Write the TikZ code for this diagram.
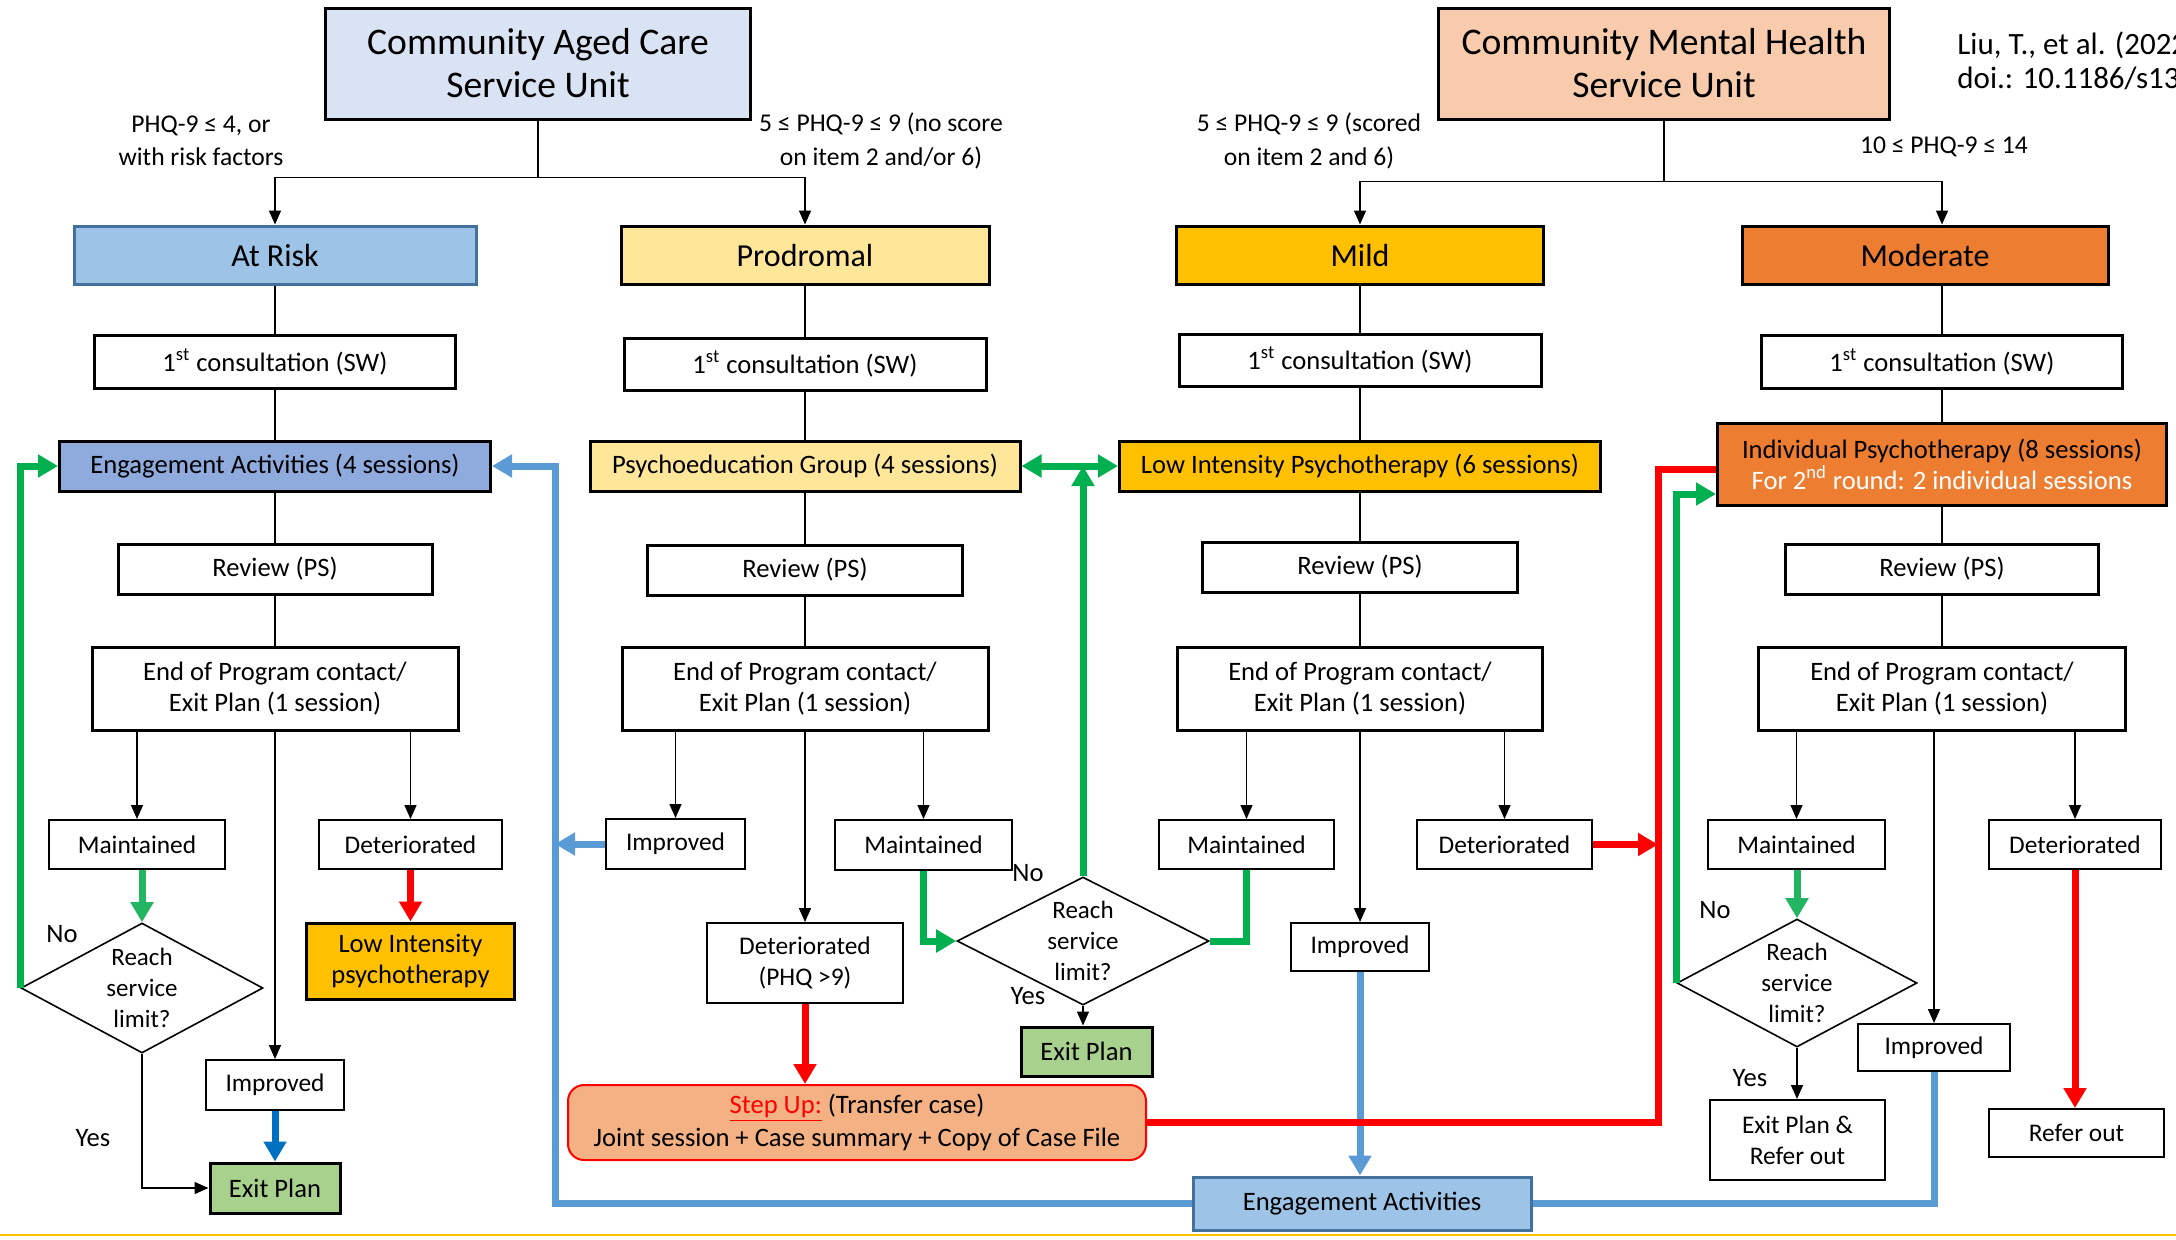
\documentclass[tikz,border=0pt]{standalone}
\usepackage{fontspec}
\setmainfont{Carlito}
\usetikzlibrary{arrows.meta,shapes.geometric,calc}
\definecolor{cacsuC}{HTML}{DAE3F3}
\definecolor{cmhsuC}{HTML}{F8CBAD}
\definecolor{atriskC}{HTML}{9DC3E6}
\definecolor{atriskB}{HTML}{41719C}
\definecolor{prodC}{HTML}{FFE699}
\definecolor{mildC}{HTML}{FFC000}
\definecolor{modC}{HTML}{ED7D31}
\definecolor{engC}{HTML}{8FAADC}
\definecolor{exitC}{HTML}{A9D18E}
\definecolor{stepC}{HTML}{F4B183}
\definecolor{loopB}{HTML}{5B9BD5}
\definecolor{darkB}{HTML}{0070C0}
\definecolor{cgrn}{HTML}{00B050}
\definecolor{lgrn}{HTML}{24B563}
\definecolor{cred}{HTML}{FF0000}
\newcommand{\ftitle}{\fontsize{18.8}{21.5}\selectfont}
\newcommand{\flevel}{\fontsize{16}{19}\selectfont}
\newcommand{\fbody}{\fontsize{13.3}{15.5}\selectfont}
\newcommand{\fout}{\fontsize{12.7}{15.5}\selectfont}
\newcommand{\flab}{\fontsize{12.8}{16.6}\selectfont}
\newcommand{\fdia}{\fontsize{12.5}{15.6}\selectfont}
\newcommand{\fcite}{\fontsize{15.5}{16.5}\selectfont}
% \mkbox[style]{name}{cx}{cy}{w}{h}{text}
\newcommand{\mkbox}[7][]{\node[#1,minimum width={#5*0.5pt},minimum height={#6*0.5pt}] (#2) at (#3,#4) {#7};}
\tikzset{
  box/.style={draw, line width=1.5pt, inner sep=0pt, align=center, font=\fbody},
  obox/.style={draw, line width=1pt, inner sep=0pt, align=center, font=\fout},
  titlebox/.style={box, font=\ftitle},
  levelbox/.style={box, font=\flevel},
  lab/.style={align=center, font=\flab, inner sep=0pt},
  yn/.style={font=\fbody, inner sep=0pt},
  dia/.style={draw, diamond, shape aspect=1.9, inner sep=0pt, line width=0.8pt, align=center, font=\fdia},
  ln/.style={line width=0.75pt},
  arr/.style={ln, -{Triangle[width=6pt,length=7pt]}},
  tk/.style={line width=3.5pt},
  bigtip/.style={-{Triangle[width=11pt,length=10pt]}},
}
\begin{document}
\begin{tikzpicture}[x=0.5pt,y=-0.5pt]
\clip (0,0) rectangle (2176,1239);
\useasboundingbox (0,0) rectangle (2176,1239);
% units
\mkbox[titlebox,fill=cacsuC]{cacsu}{538}{63.5}{425}{111}{Community Aged Care\\Service Unit}
\mkbox[titlebox,fill=cmhsuC]{cmhsu}{1664}{63.5}{451}{111}{Community Mental Health\\Service Unit}
\node[lab] (lab1) at (201,141) {PHQ-9 ≤ 4, or\\with risk factors};
\node[lab] (lab2) at (881,141) {5 ≤ PHQ-9 ≤ 9 (no score\\on item 2 and/or 6)};
\node[lab] (lab3) at (1309,141) {5 ≤ PHQ-9 ≤ 9 (scored\\on item 2 and 6)};
\node[lab] (lab4) at (1944,147) {10 ≤ PHQ-9 ≤ 14};
\node[font=\fcite, anchor=west, inner sep=0pt] (cite1) at (1957,45) {Liu, T., et al. (2022};
\node[font=\fcite, anchor=west, inner sep=0pt] (cite2) at (1957,78) {doi.: 10.1186/s13};
% levels
\mkbox[levelbox,fill=atriskC,draw=atriskB]{atrisk}{275}{255}{402}{58}{At Risk}
\mkbox[levelbox,fill=prodC]{prod}{805}{255}{368}{58}{Prodromal}
\mkbox[levelbox,fill=mildC]{mild}{1360}{255}{367}{58}{Mild}
\mkbox[levelbox,fill=modC]{mod}{1925}{255}{366}{58}{Moderate}
% consultations
\mkbox[box]{c1}{275}{362}{361}{53}{1\textsuperscript{st} consultation (SW)}
\mkbox[box]{c2}{805}{364}{362}{52}{1\textsuperscript{st} consultation (SW)}
\mkbox[box]{c3}{1360}{360}{362}{52}{1\textsuperscript{st} consultation (SW)}
\mkbox[box]{c4}{1942}{362}{361}{53}{1\textsuperscript{st} consultation (SW)}
% interventions
\mkbox[box,fill=engC]{ea1}{275}{466}{431}{50}{Engagement Activities (4 sessions)}
\mkbox[box,fill=prodC]{pg}{805}{466}{430}{50}{Psychoeducation Group (4 sessions)}
\mkbox[box,fill=mildC]{lip}{1360}{466}{481}{50}{Low Intensity Psychotherapy (6 sessions)}
\mkbox[box,fill=modC]{ip}{1942}{464}{449}{82}{Individual Psychotherapy (8 sessions)\\{\color{white}For 2\textsuperscript{nd} round: 2 individual sessions}}
% reviews
\mkbox[box]{r1}{275}{569}{314}{50}{Review (PS)}
\mkbox[box]{r2}{805}{570}{315}{50}{Review (PS)}
\mkbox[box]{r3}{1360}{567}{315}{50}{Review (PS)}
\mkbox[box]{r4}{1942}{569}{313}{50}{Review (PS)}
% end of program
\mkbox[box]{e1}{275}{688.5}{366}{83}{End of Program contact/\\Exit Plan (1 session)}
\mkbox[box]{e2}{805}{688.5}{366}{83}{End of Program contact/\\Exit Plan (1 session)}
\mkbox[box]{e3}{1360}{688.5}{365}{83}{End of Program contact/\\Exit Plan (1 session)}
\mkbox[box]{e4}{1942}{688.5}{367}{83}{End of Program contact/\\Exit Plan (1 session)}
% outcomes: at risk
\mkbox[obox]{m1}{137}{844.5}{176}{49}{Maintained}
\mkbox[obox]{d1}{410.5}{844.5}{183}{49}{Deteriorated}
\node[dia, minimum width=121pt, minimum height=65pt] (dia1) at (142,988) {Reach\\service\\limit?};
\mkbox[box,line width=1.5pt,fill=mildC]{lip1}{410.5}{961}{208}{76}{Low Intensity\\psychotherapy}
\mkbox[obox]{i1}{275}{1085}{138}{50}{Improved}
\mkbox[box,fill=exitC]{x1}{275}{1188}{130}{50}{Exit Plan}
\node[yn] (no1) at (62,934) {No};
\node[yn] (yes1) at (93,1138) {Yes};
% outcomes: prodromal
\mkbox[obox]{i2}{675.5}{844}{139}{50}{Improved}
\mkbox[obox]{m2}{923.5}{845}{177}{50}{Maintained}
\mkbox[obox]{d2}{805}{963}{196}{80}{Deteriorated\\(PHQ >9)}
\node[dia, minimum width=126pt, minimum height=64pt] (dia2) at (1083,941) {Reach\\service\\limit?};
\mkbox[box,fill=exitC]{x2}{1086.5}{1051.5}{131}{49}{Exit Plan}
\node[yn] (no2) at (1028,873) {No};
\node[yn] (yes2) at (1028,996) {Yes};
\node[draw=cred, line width=1pt, fill=stepC, rounded corners=8pt, inner sep=0pt, align=center,
      font=\fontsize{13.3}{16.6}\selectfont, minimum width=289pt, minimum height=37.5pt] (su) at (857,1122.5)
      {{\color{cred}\underline{Step Up:}} (Transfer case)\\Joint session + Case summary + Copy of Case File};
% outcomes: mild
\mkbox[obox]{m3}{1246.5}{844.5}{175}{49}{Maintained}
\mkbox[obox]{d3}{1504.5}{844.5}{175}{49}{Deteriorated}
\mkbox[obox]{i3}{1360}{947}{138}{48}{Improved}
\mkbox[box,fill=atriskC,draw=atriskB]{eab}{1362}{1203.5}{338}{53}{Engagement Activities}
% outcomes: moderate
\mkbox[obox]{m4}{1796.5}{844.5}{177}{49}{Maintained}
\mkbox[obox]{d4}{2075}{844.5}{172}{49}{Deteriorated}
\node[dia, minimum width=120pt, minimum height=64pt] (dia4) at (1797,983) {Reach\\service\\limit?};
\mkbox[obox]{i4}{1934}{1047.5}{152}{47}{Improved}
\mkbox[obox]{xr}{1797.5}{1140}{175}{80}{Exit Plan \&\\Refer out}
\mkbox[obox]{ro}{2076.5}{1133}{175}{48}{Refer out}
\node[yn] (no4) at (1715,910) {No};
\node[yn] (yes4) at (1750,1078) {Yes};
% ---------- thin connectors ----------
\draw[arr] (cacsu.south) -- ++(0,57) -| (atrisk.north);
\draw[arr] (cacsu.south) ++(0,57) -| (prod.north);
\draw[arr] (cmhsu.south) -- ++(0,61) -| (mild.north);
\draw[arr] (cmhsu.south) ++(0,61) -| (c4.north |- mod.north);
\foreach \a/\b in {atrisk/c1,c1/ea1,ea1/r1,r1/e1,prod/c2,c2/pg,pg/r2,r2/e2,mild/c3,c3/lip,lip/r3,r3/e3,mod/c4,c4/ip,ip/r4,r4/e4}
  \draw[ln] (\b.north |- \a.south) -- (\b.north);
\foreach \e/\o in {e1/m1,e1/d1,e1/i1,e2/i2,e2/m2,e2/d2,e3/m3,e3/d3,e3/i3,e4/m4,e4/d4,e4/i4}
  \draw[arr] (\o.north |- \e.south) -- (\o.north);
\draw[arr] (dia1.south) |- (x1.west);
\draw[arr] (dia2.south) -- (dia2.south |- x2.north);
\draw[arr] (dia4.south) -- (dia4.south |- xr.north);
% ---------- coloured connectors ----------
\coordinate (bl) at (555,466);
\coordinate (rc) at (1658,469);
\coordinate (gc) at (1680,494);
% at risk
\draw[tk, lgrn, bigtip] (dia1.north |- m1.south) -- (dia1.north);
\draw[tk, cgrn, bigtip] (dia1.west) |- (ea1.west);
\draw[tk, darkB, bigtip] (i1.south) -- (x1.north);
\draw[tk, cred, bigtip] (d1.south) -- (d1.south |- lip1.north);
% blue loop
\draw[tk, loopB, bigtip] (eab.west) -| (bl) -- (ea1.east);
\draw[tk, loopB, bigtip] (i2.west) -- (i2.west -| bl);
\draw[tk, loopB] (i4.south) |- (eab.east);
\draw[tk, loopB, bigtip] (i3.south) -- (i3.south |- eab.north);
% prodromal / mild
\draw[tk, cgrn, bigtip] (m2.south) |- (dia2.west);
\draw[tk, cgrn] (m3.south) |- (dia2.east);
\draw[tk, cgrn, bigtip] (dia2.north) -- (dia2.north |- pg.east);
\draw[tk, cgrn, {Triangle[width=11pt,length=10pt]}-{Triangle[width=11pt,length=10pt]}] (pg.east) -- (lip.west);
\draw[tk, cred, bigtip] (d2.south) -- (d2.south |- su.north);
\draw[tk, cred] (su.east) -| (rc) -- (rc -| ip.west);
\draw[tk, cred, bigtip] (d3.east) -- (d3.east -| rc);
% moderate
\draw[tk, lgrn, bigtip] (dia4.north |- m4.south) -- (dia4.north);
\draw[tk, cgrn, bigtip] (dia4.west) |- (gc -| ip.west);
\draw[tk, cred, bigtip] (d4.south) -- (d4.south |- ro.north);
% bottom rule
\draw[line width=1pt, mildC] (0,1235) -- (2176,1235);
\end{tikzpicture}
\end{document}
